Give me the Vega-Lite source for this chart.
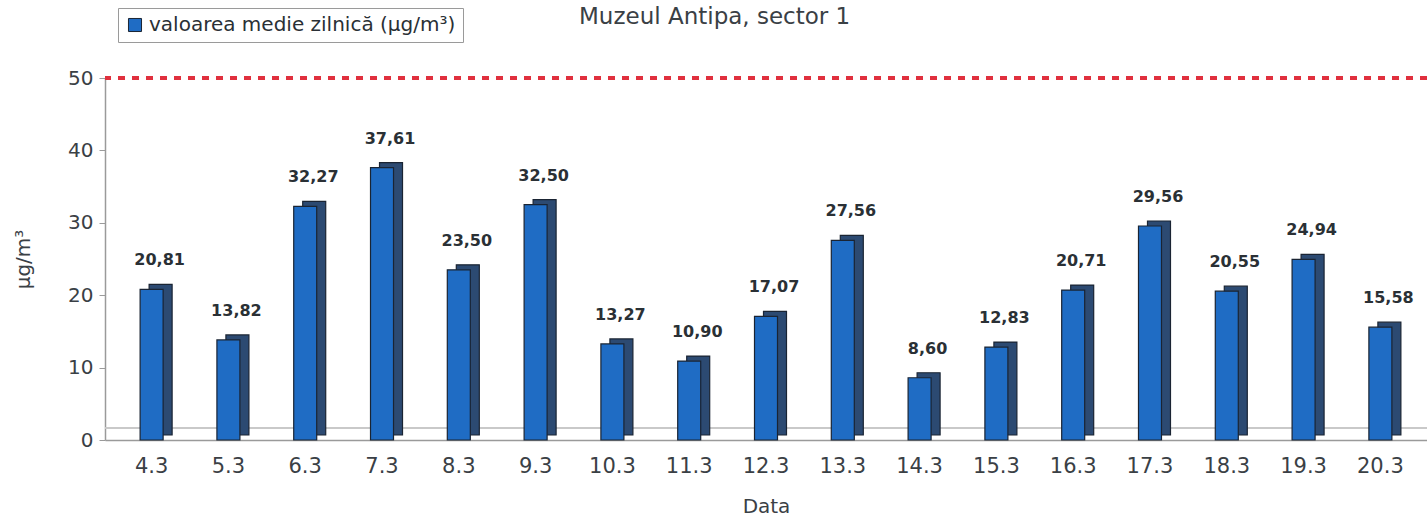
{
  "$schema": "https://vega.github.io/schema/vega-lite/v6.json",
  "width": 1322,
  "height": 362,
  "autosize": {"type": "none"},
  "padding": {"left": 105, "top": 78, "right": 0, "bottom": 81},
  "background": "white",
  "config": {
    "font": "DejaVu Sans",
    "view": {"stroke": null},
    "locale": {"number": {"decimal": ",", "thousands": ".", "grouping": [3], "currency": ["", " lei"]}}
  },
  "title": {
    "text": "Muzeul Antipa, sector 1",
    "fontSize": 23,
    "fontWeight": 500,
    "color": "#3a4045",
    "anchor": "start",
    "dx": 474,
    "offset": -21,
    "frame": "group"
  },
  "data": {
    "values": [
      {"d": "4.3", "v": 20.81},
      {"d": "5.3", "v": 13.82},
      {"d": "6.3", "v": 32.27},
      {"d": "7.3", "v": 37.61},
      {"d": "8.3", "v": 23.50},
      {"d": "9.3", "v": 32.50},
      {"d": "10.3", "v": 13.27},
      {"d": "11.3", "v": 10.90},
      {"d": "12.3", "v": 17.07},
      {"d": "13.3", "v": 27.56},
      {"d": "14.3", "v": 8.60},
      {"d": "15.3", "v": 12.83},
      {"d": "16.3", "v": 20.71},
      {"d": "17.3", "v": 29.56},
      {"d": "18.3", "v": 20.55},
      {"d": "19.3", "v": 24.94},
      {"d": "20.3", "v": 15.58}
    ]
  },
  "layer": [
    {
      "mark": {"type": "rule", "color": "#c8c8c8", "strokeWidth": 1.5, "yOffset": -12},
      "encoding": {"y": {"datum": 0}}
    },
    {
      "mark": {"type": "bar", "width": 23, "xOffset": 9, "yOffset": -5, "y2Offset": -5, "color": "#2c4a72", "stroke": "#1a2433", "strokeWidth": 1.2},
      "encoding": {
        "x": {
          "field": "d",
          "type": "nominal",
          "sort": null,
          "scale": {"paddingInner": 0, "paddingOuter": 0.107},
          "axis": {
            "title": "Data",
            "titleFontSize": 20,
            "titleFontWeight": "normal",
            "titleColor": "#3a4045",
            "titlePadding": 20,
            "labelAngle": 0,
            "labelFontSize": 21,
            "labelColor": "#3a4045",
            "labelPadding": 15,
            "ticks": false,
            "domainColor": "#9a9a9a",
            "domainWidth": 1.5
          }
        },
        "y": {
          "field": "v",
          "type": "quantitative",
          "scale": {"domain": [0, 50], "nice": false},
          "axis": {
            "title": "µg/m³",
            "titleFontSize": 20,
            "titleFontWeight": "normal",
            "titleColor": "#3a4045",
            "titlePadding": 34,
            "values": [0, 10, 20, 30, 40, 50],
            "labelFontSize": 20,
            "labelColor": "#3a4045",
            "labelPadding": 6,
            "tickSize": 6,
            "tickColor": "#9a9a9a",
            "domainColor": "#9a9a9a",
            "domainWidth": 1.5,
            "grid": false
          }
        }
      }
    },
    {
      "mark": {"type": "bar", "width": 23, "xOffset": 0, "stroke": "#1a2433", "strokeWidth": 1.2},
      "encoding": {
        "x": {"field": "d", "type": "nominal", "sort": null},
        "y": {"field": "v", "type": "quantitative"},
        "color": {
          "datum": "valoarea medie zilnică (µg/m³)",
          "scale": {"range": ["#1f6cc4"]},
          "legend": {
            "title": null,
            "orient": "none",
            "legendX": 13,
            "legendY": -70,
            "labelFontSize": 20,
            "labelLimit": 500,
            "labelColor": "#2a3035",
            "symbolType": "square",
            "symbolSize": 170,
            "symbolStrokeColor": "#1a2433",
            "symbolStrokeWidth": 1,
            "strokeColor": "#9a9a9a",
            "padding": 7,
            "fillColor": "white"
          }
        }
      }
    },
    {
      "mark": {"type": "text", "fontSize": 16, "fontWeight": "bold", "color": "#2a3035", "baseline": "alphabetic", "xOffset": 8, "yOffset": -24},
      "encoding": {
        "x": {"field": "d", "type": "nominal", "sort": null},
        "y": {"field": "v", "type": "quantitative"},
        "text": {"field": "v", "type": "quantitative", "format": ".2f"}
      }
    },
    {
      "mark": {"type": "rule", "color": "#e0303f", "strokeWidth": 2.5, "strokeDash": [7, 7]},
      "encoding": {"y": {"datum": 50}}
    }
  ]
}
